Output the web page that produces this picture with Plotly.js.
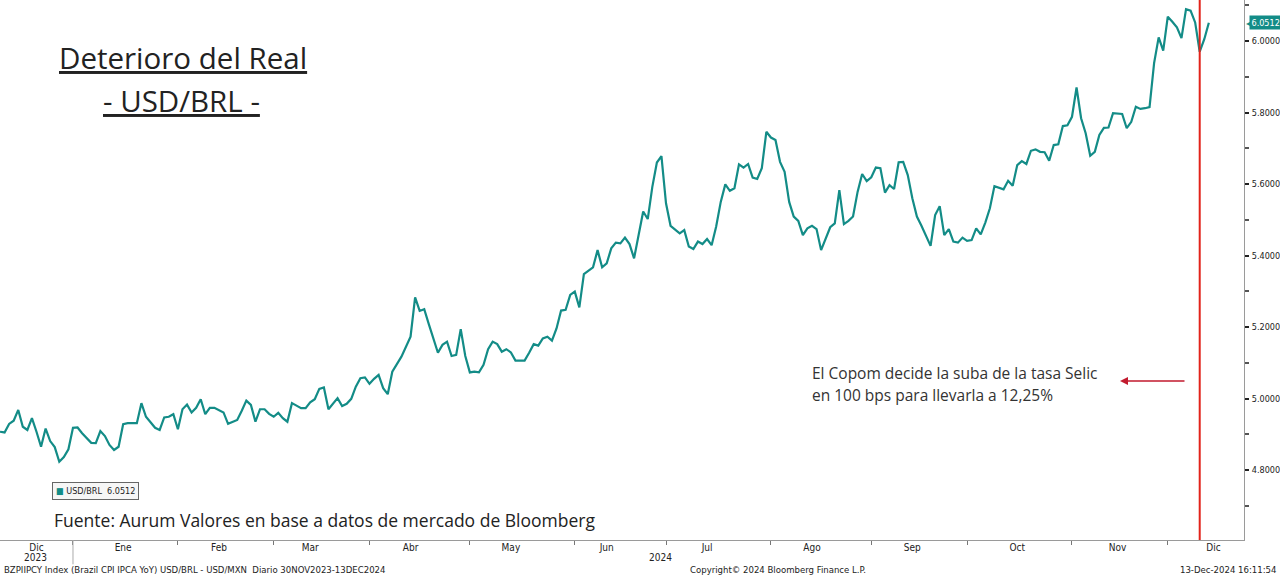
<!DOCTYPE html>
<html>
<head>
<meta charset="utf-8">
<script src="https://cdn.plot.ly/plotly-3.0.1.min.js"></script>
<style>
  html, body { margin: 0; padding: 0; background: #fff; }
  #chart { width: 1280px; height: 575px; }
</style>
</head>
<body>
<div id="chart"></div>
<script>
// USD/BRL daily closes (business days only)
const dates = [
  "2023-12-08","2023-12-11","2023-12-12","2023-12-13","2023-12-14","2023-12-15","2023-12-18","2023-12-19","2023-12-20","2023-12-21","2023-12-22","2023-12-25","2023-12-26","2023-12-27","2023-12-28","2023-12-29",
  "2024-01-01","2024-01-02","2024-01-03","2024-01-05","2024-01-08","2024-01-09","2024-01-10","2024-01-11","2024-01-12","2024-01-15","2024-01-16","2024-01-17","2024-01-19","2024-01-22","2024-01-23","2024-01-24","2024-01-25","2024-01-26","2024-01-29","2024-01-30","2024-01-31",
  "2024-02-01","2024-02-02","2024-02-05","2024-02-06","2024-02-07","2024-02-08","2024-02-09","2024-02-12","2024-02-13","2024-02-14","2024-02-15","2024-02-16","2024-02-20","2024-02-21","2024-02-22","2024-02-23","2024-02-26","2024-02-27","2024-02-28","2024-02-29",
  "2024-03-01","2024-03-04","2024-03-05","2024-03-06","2024-03-07","2024-03-08","2024-03-11","2024-03-12","2024-03-13","2024-03-14","2024-03-15","2024-03-18","2024-03-19","2024-03-21","2024-03-22","2024-03-25","2024-03-26","2024-03-27","2024-03-28","2024-03-29",
  "2024-04-01","2024-04-02","2024-04-03","2024-04-04","2024-04-05","2024-04-08","2024-04-09","2024-04-10","2024-04-12","2024-04-15","2024-04-16","2024-04-17","2024-04-18","2024-04-19","2024-04-22","2024-04-23","2024-04-24","2024-04-25","2024-04-26","2024-04-29","2024-04-30",
  "2024-05-01","2024-05-02","2024-05-03","2024-05-06","2024-05-07","2024-05-08","2024-05-09","2024-05-10","2024-05-13","2024-05-14","2024-05-15","2024-05-17","2024-05-20","2024-05-21","2024-05-22","2024-05-23","2024-05-24","2024-05-27","2024-05-28","2024-05-29","2024-05-30","2024-05-31",
  "2024-06-03","2024-06-04","2024-06-05","2024-06-06","2024-06-07","2024-06-10","2024-06-11","2024-06-12","2024-06-13","2024-06-14","2024-06-17","2024-06-18","2024-06-19","2024-06-20","2024-06-24","2024-06-25","2024-06-26","2024-06-27","2024-06-28",
  "2024-07-01","2024-07-02","2024-07-04","2024-07-05","2024-07-08","2024-07-09","2024-07-10","2024-07-11","2024-07-12","2024-07-15","2024-07-16","2024-07-17","2024-07-18","2024-07-19","2024-07-22","2024-07-23","2024-07-24","2024-07-25","2024-07-26","2024-07-29","2024-07-30","2024-07-31",
  "2024-08-01","2024-08-02","2024-08-05","2024-08-06","2024-08-07","2024-08-08","2024-08-09","2024-08-12","2024-08-13","2024-08-14","2024-08-15","2024-08-16","2024-08-20","2024-08-21","2024-08-22","2024-08-23","2024-08-26","2024-08-27","2024-08-28","2024-08-29","2024-08-30",
  "2024-09-02","2024-09-03","2024-09-04","2024-09-05","2024-09-06","2024-09-09","2024-09-10","2024-09-11","2024-09-12","2024-09-13","2024-09-16","2024-09-17","2024-09-18","2024-09-19","2024-09-20","2024-09-23","2024-09-24","2024-09-25","2024-09-26","2024-09-27","2024-09-30",
  "2024-10-01","2024-10-02","2024-10-03","2024-10-04","2024-10-07","2024-10-08","2024-10-09","2024-10-11","2024-10-14","2024-10-15","2024-10-16","2024-10-17","2024-10-18","2024-10-21","2024-10-22","2024-10-23","2024-10-24","2024-10-25","2024-10-28","2024-10-29","2024-10-30","2024-10-31",
  "2024-11-01","2024-11-04","2024-11-05","2024-11-06","2024-11-07","2024-11-08","2024-11-11","2024-11-12","2024-11-13","2024-11-14","2024-11-18","2024-11-19","2024-11-20","2024-11-21","2024-11-22","2024-11-25","2024-11-26","2024-11-27","2024-11-28","2024-11-29",
  "2024-12-02","2024-12-03","2024-12-04","2024-12-05","2024-12-06","2024-12-09","2024-12-10","2024-12-11","2024-12-12","2024-12-13"
];

const usdbrl = [
  4.907,4.905,4.929,4.938,4.968,4.921,4.912,4.945,4.907,4.865,4.916,4.881,4.864,4.823,4.836,4.858,
  4.918,4.919,4.903,4.876,4.875,4.909,4.895,4.870,4.856,4.865,4.928,4.931,4.931,4.987,4.949,4.933,4.918,4.912,4.947,4.949,4.956,
  4.914,4.970,4.983,4.961,4.974,4.998,4.956,4.974,4.974,4.968,4.961,4.929,4.940,4.966,4.994,4.982,4.935,4.970,4.970,4.957,
  4.949,4.960,4.945,4.935,4.987,4.980,4.973,4.973,4.989,4.998,5.027,5.031,4.970,5.001,4.979,4.985,4.999,5.033,5.057,5.059,
  5.041,5.055,5.066,5.029,5.012,5.075,5.097,5.117,5.173,5.283,5.245,5.250,5.208,5.168,5.128,5.150,5.159,5.119,5.122,5.194,5.119,
  5.073,5.075,5.073,5.094,5.138,5.159,5.152,5.131,5.138,5.129,5.106,5.106,5.128,5.152,5.148,5.168,5.173,5.162,5.196,5.246,5.248,5.290,
  5.299,5.255,5.348,5.357,5.367,5.415,5.367,5.378,5.420,5.436,5.434,5.450,5.432,5.392,5.523,5.502,5.592,5.660,5.678,
  5.546,5.483,5.462,5.471,5.425,5.418,5.439,5.432,5.446,5.429,5.481,5.550,5.599,5.581,5.588,5.655,5.646,5.656,5.618,5.614,5.644,5.746,
  5.730,5.723,5.662,5.634,5.550,5.509,5.497,5.457,5.476,5.483,5.474,5.415,5.479,5.490,5.583,5.488,5.497,5.509,5.578,5.628,5.608,
  5.619,5.646,5.644,5.576,5.597,5.586,5.661,5.662,5.625,5.560,5.509,5.483,5.457,5.427,5.513,5.538,5.457,5.474,5.439,5.436,5.450,
  5.441,5.443,5.476,5.459,5.492,5.532,5.594,5.585,5.609,5.595,5.653,5.664,5.656,5.693,5.697,5.690,5.689,5.665,5.709,5.711,5.762,5.764,
  5.788,5.870,5.784,5.742,5.679,5.690,5.737,5.757,5.758,5.798,5.796,5.756,5.774,5.816,5.810,5.812,5.815,5.938,6.010,5.973,
  6.068,6.054,6.038,6.008,6.089,6.085,6.052,5.970,6.005,6.0512
];

// month labels sit in the middle of each month, ticks at month starts
const monthMid = ["2023-12-20","2024-01-16","2024-02-14","2024-03-13","2024-04-12","2024-05-14","2024-06-12",
                  "2024-07-12","2024-08-14","2024-09-13","2024-10-16","2024-11-15","2024-12-16"];
const monthNames = ["Dic","Ene","Feb","Mar","Abr","May","Jun","Jul","Ago","Sep","Oct","Nov","Dic"];
const monthStarts = ["2024-01-01","2024-02-01","2024-03-01","2024-04-01","2024-05-01","2024-06-03",
                     "2024-07-01","2024-08-01","2024-09-02","2024-10-01","2024-11-01","2024-12-02"];
const yTicks = [4.8, 5.0, 5.2, 5.4, 5.6, 5.8, 6.0];

const copomDate = "2024-12-11";
const lastValue = usdbrl[usdbrl.length - 1];

const teal = "#138c87";
const narrow = "'Liberation Sans Narrow', 'DejaVu Sans Condensed', sans-serif";
const round = "'Open Sans', Lato, sans-serif";

const trace = {
  x: dates,
  y: usdbrl,
  type: "scatter",
  mode: "lines",
  line: { color: teal, width: 2.2 },
  hoverinfo: "x+y"
};

const layout = {
  width: 1280,
  height: 575,
  margin: { l: 0, r: 36, t: 0, b: 35 },
  paper_bgcolor: "white",
  plot_bgcolor: "white",
  showlegend: false,
  xaxis: {
    type: "date",
    range: ["2023-12-08", "2024-12-24 17:00"],
    rangebreaks: [{ bounds: ["sat", "mon"] }],
    tickmode: "array",
    tickvals: monthMid,
    ticktext: monthNames,
    ticks: "",
    ticklabelstandoff: -2,
    tickfont: { family: narrow, size: 10, color: "#222" },
    showgrid: false,
    zeroline: false,
    showline: true,
    linecolor: "#9a9a9a",
    linewidth: 1,
    minor: { tickmode: "array", tickvals: monthStarts, ticks: "outside", ticklen: 4, tickcolor: "#777", showgrid: false },
    fixedrange: true
  },
  yaxis: {
    side: "right",
    range: [4.6042, 6.1147],
    tickmode: "array",
    tickvals: yTicks,
    tickformat: ".4f",
    ticks: "outside",
    ticklen: 4,
    tickwidth: 2,
    tickcolor: "#222",
    tickfont: { family: narrow, size: 9, color: "#222" },
    ticklabelstandoff: 1,
    showgrid: false,
    zeroline: false,
    showline: true,
    linecolor: "#9a9a9a",
    linewidth: 1,
    minor: { dtick: 0.1, tick0: 4.7, ticks: "outside", ticklen: 4, tickcolor: "#555", showgrid: false },
    fixedrange: true
  },
  shapes: [
    {
      type: "line", xref: "x", yref: "paper",
      x0: copomDate, x1: copomDate, y0: 0, y1: 1,
      line: { color: "#e2231a", width: 2 }
    },
    {
      // year separator under the axis
      type: "line", xref: "x", yref: "paper",
      x0: monthStarts[0], x1: monthStarts[0], y0: 0, y1: -0.045,
      line: { color: "#aaa", width: 1 }
    }
  ],
  annotations: [
    {
      text: '<span style="text-decoration:underline">Deterioro del Real</span>',
      xref: "paper", yref: "paper", x: 0.1471, y: 0.8944,
      xanchor: "center", yanchor: "middle", showarrow: false,
      font: { family: round, size: 29.5, color: "#222" }
    },
    {
      text: '<span style="text-decoration:underline">- USD/BRL -</span>',
      xref: "paper", yref: "paper", x: 0.1463, y: 0.813,
      xanchor: "center", yanchor: "middle", showarrow: false,
      font: { family: round, size: 29.5, color: "#222" }
    },
    {
      text: "El Copom decide la suba de la tasa Selic",
      xref: "paper", yref: "paper", x: 0.651, y: 1 - 373 / 540,
      xanchor: "left", yanchor: "middle", showarrow: false,
      font: { family: round, size: 15.5, color: "#333" }
    },
    {
      text: "en 100 bps para llevarla a 12,25%",
      xref: "paper", yref: "paper", x: 0.651, y: 1 - 395 / 540,
      xanchor: "left", yanchor: "middle", showarrow: false,
      font: { family: round, size: 15.5, color: "#333" }
    },
    {
      text: "",
      xref: "paper", yref: "paper", x: 1120 / 1244, y: 1 - 381 / 540,
      showarrow: true, ax: 66, ay: 0,
      arrowhead: 2, arrowsize: 1, arrowwidth: 1.6, arrowcolor: "#c21a2e"
    },
    {
      text: '<span style="color:' + teal + '">■</span> USD/BRL  ' + lastValue.toFixed(4),
      xref: "paper", yref: "paper", x: 52 / 1244, y: 1 - 491 / 540,
      xanchor: "left", yanchor: "middle", showarrow: false,
      font: { family: narrow, size: 9, color: "#222" },
      bgcolor: "#f6f6f6", bordercolor: "#666", borderwidth: 1, borderpad: 3
    },
    {
      text: "Fuente: Aurum Valores en base a datos de mercado de Bloomberg",
      xref: "paper", yref: "paper", x: 52 / 1244, y: 1 - 520 / 540,
      xanchor: "left", yanchor: "middle", showarrow: false,
      font: { family: round, size: 17.5, color: "#222" }
    },
    {
      text: "◀",
      xref: "paper", yref: "y", x: 1, y: lastValue,
      xanchor: "left", yanchor: "middle", xshift: 0, showarrow: false,
      font: { size: 8, color: teal }
    },
    {
      text: lastValue.toFixed(4),
      xref: "paper", yref: "y", x: 1, y: lastValue,
      xanchor: "left", yanchor: "middle", xshift: 5, showarrow: false,
      font: { family: narrow, size: 9, color: "white" },
      bgcolor: teal, borderpad: 1.5
    },
    {
      text: "2023",
      xref: "paper", yref: "paper", x: 35 / 1244, y: 1 - 557 / 540,
      xanchor: "center", yanchor: "middle", showarrow: false,
      font: { family: narrow, size: 10, color: "#222" }
    },
    {
      text: "2024",
      xref: "paper", yref: "paper", x: 660 / 1244, y: 1 - 557 / 540,
      xanchor: "center", yanchor: "middle", showarrow: false,
      font: { family: narrow, size: 10, color: "#222" }
    },
    {
      text: "BZPIIPCY Index (Brazil CPI IPCA YoY) USD/BRL - USD/MXN  Diario 30NOV2023-13DEC2024",
      xref: "paper", yref: "paper", x: 2 / 1244, y: 1 - 569.5 / 540,
      xanchor: "left", yanchor: "middle", showarrow: false,
      font: { family: narrow, size: 9.5, color: "#222" }
    },
    {
      text: "Copyright© 2024 Bloomberg Finance L.P.",
      xref: "paper", yref: "paper", x: 778 / 1244, y: 1 - 569.5 / 540,
      xanchor: "center", yanchor: "middle", showarrow: false,
      font: { family: narrow, size: 9.5, color: "#222" }
    },
    {
      text: "13-Dec-2024 16:11:54",
      xref: "paper", yref: "paper", x: 1278 / 1244, y: 1 - 569.5 / 540,
      xanchor: "right", yanchor: "middle", showarrow: false,
      font: { family: narrow, size: 9.5, color: "#222" }
    }
  ]
};

Plotly.newPlot("chart", [trace], layout, { displayModeBar: false, staticPlot: true });
</script>
</body>
</html>
